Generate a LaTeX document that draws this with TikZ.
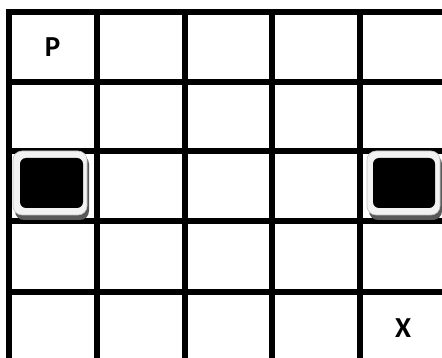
\documentclass[tikz,border=0pt]{standalone}
\usepackage{fontspec}
\setmainfont{Carlito}
\tikzset{
  gridline/.style={line width=6pt, black},
  lbl/.style={font=\fontsize{29}{29}\selectfont\bfseries, inner sep=0pt},
  shadowbox/.style={fill=black!65, rounded corners=9pt},
  keycap/.style={fill=black!5, draw=black!25, line width=0.6pt, rounded corners=9pt},
  keyface/.style={fill=black, rounded corners=6pt}
}
\begin{document}
\begin{tikzpicture}[x=1pt,y=-1pt]
\useasboundingbox (0,0) rectangle (442,358);
% grid
\foreach \xx in {9,97,184.5,272,360} \draw[gridline] (\xx,9) -- (\xx,358);
\foreach \yy in {12,82,151.5,221.5,292} \draw[gridline] (6,\yy) -- (442,\yy);
% left block
\fill[shadowbox] (15,155) rectangle (89,220);
\filldraw[keycap] (13,151) rectangle (87,215);
\fill[keyface] (20,158) rectangle (83,208);
% right block
\fill[shadowbox] (369,155) rectangle (442,220);
\filldraw[keycap] (367,151) rectangle (440,215);
\fill[keyface] (373,158) rectangle (435,208);
% labels
\node[lbl] (P) at (52.5,47) {P};
\node[lbl] (X) at (403,328.5) {X};
\end{tikzpicture}
\end{document}
